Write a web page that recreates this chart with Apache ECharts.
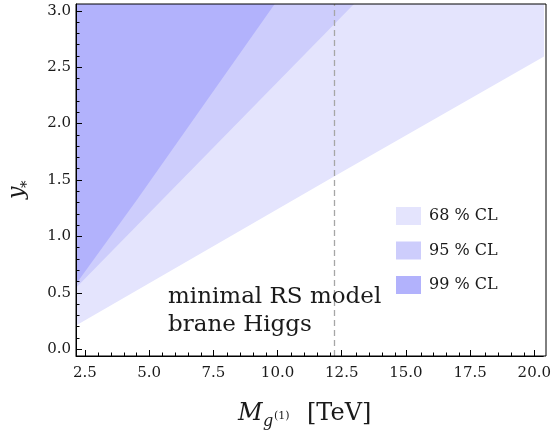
<!DOCTYPE html>
<html><head><meta charset="utf-8">
<script src="https://cdn.jsdelivr.net/npm/echarts@6/dist/echarts.min.js"></script>
<style>html,body{margin:0;padding:0;background:#fff}#c{width:554px;height:436px}</style>
</head><body><div id="c"></div>
<script>
// ---- data ----
const massCL68 = [2.0, 12.2, 20.5];
const yStarCL68 = [0.19, 1.53, 2.61];
const massCL95 = [2.0, 5.49, 13.02];
const yStarCL95 = [0.51, 1.32, 3.07];
const massCL99 = [2.0, 4.51, 9.92];
const yStarCL99 = [0.53, 1.32, 3.07];
const kkMassLine = 12.2;
const xTickValues = [2.5, 5, 7.5, 10, 12.5, 15, 17.5, 20];
const xTickLabels = ['2.5', '5.0', '7.5', '10.0', '12.5', '15.0', '17.5', '20.0'];
const yTickValues = [0, 0.5, 1, 1.5, 2, 2.5, 3];
const yTickLabels = ['0.0', '0.5', '1.0', '1.5', '2.0', '2.5', '3.0'];
const legendNames = ['68 % CL', '95 % CL', '99 % CL'];
const annotationLines = ['minimal RS model', 'brane Higgs'];

// ---- styles ----
const bandColors = ['#e4e4fd', '#cdcdfc', '#b2b2fc'];
const SERIF = 'DejaVu Serif';
const TEXT = '#1a1a1a';
const xMin = 2.15, xMax = 20.35, yMin = -0.06, yMax = 3.06;

const xMinor = [], yMinor = [];
for (let i = 0; i < xTickValues.length - 1; i++) {
  const a = xTickValues[i], b = xTickValues[i + 1];
  for (let k = 1; k < 5; k++) xMinor.push(a + (b - a) * k / 5);
}
for (let i = 0; i < yTickValues.length - 1; i++) {
  const a = yTickValues[i], b = yTickValues[i + 1];
  for (let k = 1; k < 5; k++) yMinor.push(a + (b - a) * k / 5);
}

const zip = (xs, ys) => xs.map((x, i) => [x, ys[i]]);
const bands = [zip(massCL68, yStarCL68), zip(massCL95, yStarCL95), zip(massCL99, yStarCL99)];

const gridRect = {left: 76, right: 8, top: 4, bottom: 80};
const chart = echarts.init(document.getElementById('c'), null, {renderer: 'canvas'});

const labelStyle = {fontFamily: SERIF, fontSize: 15, color: TEXT};
const tickLine = {color: '#000', width: 1};

const option = {
  animation: false,
  backgroundColor: '#fff',
  grid: [
    Object.assign({}, gridRect),
    Object.assign({show: true, z: 10, borderColor: '#000', borderWidth: 1, backgroundColor: 'transparent'}, gridRect)
  ],
  xAxis: [
    {type: 'value', gridIndex: 0, min: xMin, max: xMax, position: 'bottom', z: 10,
     axisLine: {show: true, onZero: false, lineStyle: {color: '#000', width: 1}},
     axisTick: {show: true, inside: true, length: 6, customValues: xTickValues, lineStyle: tickLine},
     axisLabel: Object.assign({customValues: xTickValues, margin: 10,
       formatter: v => xTickLabels[xTickValues.indexOf(v)]}, labelStyle),
     splitLine: {show: false}},
    {type: 'value', gridIndex: 1, min: xMin, max: xMax, position: 'bottom', z: 10,
     axisLine: {show: false, onZero: false},
     axisTick: {show: true, inside: true, length: 3.5, customValues: xMinor, lineStyle: tickLine},
     axisLabel: {show: false}, splitLine: {show: false}}
  ],
  yAxis: [
    {type: 'value', gridIndex: 0, min: yMin, max: yMax, position: 'left', z: 10,
     axisLine: {show: true, onZero: false, lineStyle: {color: '#000', width: 1}},
     axisTick: {show: true, inside: true, length: 6, customValues: yTickValues, lineStyle: tickLine},
     axisLabel: Object.assign({customValues: yTickValues, margin: 5,
       formatter: v => yTickLabels[yTickValues.indexOf(v)]}, labelStyle),
     splitLine: {show: false}},
    {type: 'value', gridIndex: 1, min: yMin, max: yMax, position: 'left', z: 10,
     axisLine: {show: false, onZero: false},
     axisTick: {show: true, inside: true, length: 3.5, customValues: yMinor, lineStyle: tickLine},
     axisLabel: {show: false}, splitLine: {show: false}}
  ],
  legend: {
    orient: 'vertical', left: 396, top: 207, padding: 0,
    itemWidth: 25, itemHeight: 18, itemGap: 16.5, icon: 'rect',
    textStyle: {fontFamily: SERIF, fontSize: 16, color: TEXT, padding: [0, 0, 0, 3]},
    data: legendNames.map((n, i) => ({name: n, itemStyle: {color: bandColors[i]}}))
  },
  series: bands.map((d, i) => ({
    name: legendNames[i], type: 'line', xAxisIndex: 0, yAxisIndex: 0,
    data: d, showSymbol: false, symbol: 'none', clip: true, silent: true,
    itemStyle: {color: bandColors[i]},
    lineStyle: {width: 0, color: bandColors[i]},
    areaStyle: {origin: 'end', color: bandColors[i], opacity: 1}
  })).concat([{
    type: 'line', xAxisIndex: 0, yAxisIndex: 0, data: [], silent: true,
    markLine: {silent: true, symbol: 'none', label: {show: false},
      lineStyle: {color: '#a6a6a6', width: 1.3, type: [6, 4]},
      data: [{xAxis: kkMassLine}]}
  }]),
  graphic: [
    {type: 'text', left: 168, top: 286, z: 20,
     style: {text: annotationLines[0], font: '23px "DejaVu Serif"', fill: TEXT}},
    {type: 'text', left: 168, top: 314, z: 20,
     style: {text: annotationLines[1], font: '23px "DejaVu Serif"', fill: TEXT}},
    // x axis title: M_{g^(1)} [TeV]
    {type: 'text', x: 238, y: 414, z: 20,
     style: {text: 'M', font: 'italic 24px "DejaVu Serif"', fill: TEXT, verticalAlign: 'middle'}},
    {type: 'text', x: 263, y: 422, z: 20,
     style: {text: 'g', font: 'italic 16px "DejaVu Serif"', fill: TEXT, verticalAlign: 'middle'}},
    {type: 'text', x: 274, y: 416, z: 20,
     style: {text: '(1)', font: '11px "DejaVu Serif"', fill: TEXT, verticalAlign: 'middle'}},
    {type: 'text', x: 307, y: 414, z: 20,
     style: {text: '[TeV]', font: '24px "DejaVu Serif"', fill: TEXT, verticalAlign: 'middle'}},
    // y axis title: y_*
    {type: 'group', x: 23.5, y: 199, rotation: Math.PI / 2, z: 20,
     children: [
       {type: 'text', x: 0, y: -6.6,
        style: {text: 'y', font: 'italic 22px "DejaVu Serif"', fill: TEXT, verticalAlign: 'middle'}},
       {type: 'text', x: 11, y: 3.5,
        style: {text: '*', font: '15px "DejaVu Serif"', fill: TEXT, verticalAlign: 'middle'}}
     ]}
  ]
};
chart.setOption(option);
</script>
</body></html>
